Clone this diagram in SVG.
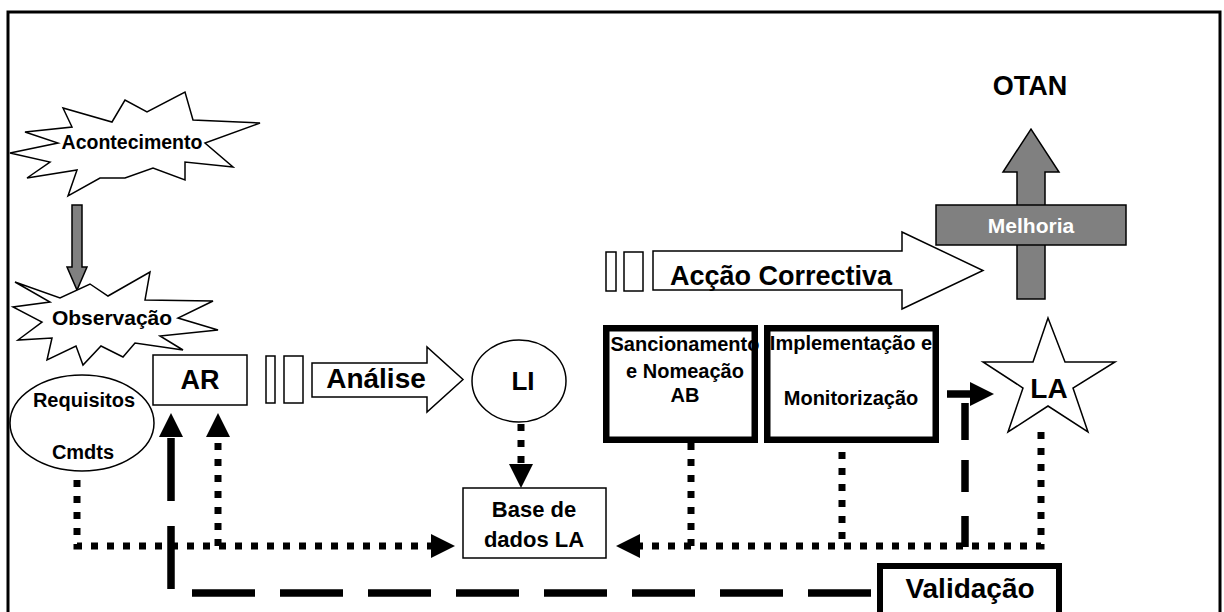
<svg xmlns="http://www.w3.org/2000/svg" width="1224" height="612" viewBox="0 0 1224 612">
<defs>
<style>
text{font-family:"Liberation Sans",Arial,sans-serif;font-weight:bold;fill:#000;text-anchor:middle}
.thin{fill:#fff;stroke:#000;stroke-width:1.5}
.thick{fill:#fff;stroke:#000;stroke-width:6.5}
.gray{fill:#808080;stroke:#000;stroke-width:1.5}
.dot{fill:none;stroke:#000;stroke-width:7;stroke-dasharray:7 9}
.dash{fill:none;stroke:#000;stroke-width:7.5}
</style>
<marker id="ah" markerUnits="userSpaceOnUse" markerWidth="26" markerHeight="24" refX="0" refY="12" orient="auto" viewBox="0 0 26 24">
<path d="M0,0 L24,12 L0,24 z" fill="#000"/>
</marker>
</defs>
<rect x="0" y="0" width="1224" height="612" fill="#fff"/>
<rect x="8" y="12" width="1212" height="700" fill="none" stroke="#000" stroke-width="3"/>

<g id="connectors">
<path class="dot" d="M77,480 V546 H431" marker-end="url(#ah)"/>
<path class="dot" d="M218,546 V437" marker-end="url(#ah)"/>
<path class="dot" d="M521,424 V464" marker-end="url(#ah)"/>
<path class="dot" d="M1041,432 V546 H640" marker-end="url(#ah)"/>
<path class="dot" d="M691,443 V546"/>
<path class="dot" d="M842,452 V546"/>
<path class="dash" d="M871,593 H171 V437" stroke-dasharray="63 25" marker-end="url(#ah)"/>
<path class="dash" d="M965,547 V516 M965,492 V460 M965,440 V403"/>
<path class="dash" d="M947,394 H970" marker-end="url(#ah)"/>
<path class="gray" d="M72,205 H82 V267 H87 L77,290 L67,267 H72 Z"/>
</g>

<g id="acontecimento">
<polygon class="thin" points="10,153 58,143 25,132 72,127 63,108 112,122 125,100 147,112 185,92 193,120 260,123 205,143 233,167 185,162 185,180 153,168 125,178 100,178 68,196 77,170 27,178 50,162"/>
<text x="132" y="149" font-size="19.5">Acontecimento</text>
</g>

<g id="observacao">
<polygon class="thin" points="15,282 60,298 90,284 108,296 150,272 145,300 213,301 178,318 218,330 160,336 183,350 135,343 123,357 101,346 83,365 76,346 47,360 52,338 18,340 42,322 13,307 50,302"/>
<text x="112" y="325" font-size="21">Observação</text>
</g>

<g id="requisitos">
<ellipse class="thin" cx="82" cy="423" rx="72" ry="48"/>
<text x="84" y="407" font-size="20">Requisitos</text>
<text x="83" y="459" font-size="20">Cmdts</text>
</g>

<g id="ar">
<rect class="thin" x="153" y="355" width="94" height="50"/>
<text x="200" y="389" font-size="27">AR</text>
</g>

<g id="analise">
<rect class="thin" x="266" y="356" width="9" height="47"/>
<rect class="thin" x="284" y="356" width="19" height="47"/>
<polygon class="thin" points="312,363 427,363 427,347 463,379.5 427,412 427,397 312,397"/>
<text x="376" y="388" font-size="28">Análise</text>
</g>

<g id="li">
<ellipse class="thin" cx="519" cy="381" rx="47" ry="41"/>
<text x="523" y="390" font-size="26">LI</text>
</g>

<g id="base">
<rect class="thin" x="463" y="488" width="143" height="70"/>
<text x="534" y="517" font-size="22">Base de</text>
<text x="534" y="547" font-size="22">dados LA</text>
</g>

<g id="accao">
<rect class="thin" x="606" y="252" width="10" height="39"/>
<rect class="thin" x="624" y="252" width="19" height="39"/>
<polygon class="thin" points="653,251 902,251 902,232 983,270.5 902,309 902,290 653,290"/>
<text x="670" y="285" font-size="27" style="text-anchor:start">Acção Correctiva</text>
</g>

<g id="sancionamento">
<text x="685" y="351" font-size="20">Sancionamento</text>
<text x="685" y="378" font-size="20">e Nomeação</text>
<text x="685" y="402" font-size="20">AB</text>
<rect x="606.25" y="328.25" width="148.5" height="111.5" fill="none" stroke="#000" stroke-width="6.5"/>
</g>

<g id="implementacao">
<text x="851" y="350" font-size="20">Implementação e</text>
<text x="851" y="405" font-size="20">Monitorização</text>
<rect x="767.25" y="328.25" width="168.5" height="111.5" fill="none" stroke="#000" stroke-width="6.5"/>
</g>

<g id="otan">
<text x="1030" y="95" font-size="27">OTAN</text>
</g>

<g id="melhoria">
<polygon class="gray" points="1017,299 1017,172 1003,172 1031,129 1059,172 1045,172 1045,299"/>
<rect class="gray" x="936" y="205" width="190" height="40"/>
<text x="1031" y="233" font-size="21" style="fill:#fff">Melhoria</text>
</g>

<g id="la">
<polygon class="thin" points="1048,318 1065,362 1115,362 1073,388 1088,432 1048,406 1008,432 1023,388 983,362 1033,362"/>
<text x="1049" y="398" font-size="28">LA</text>
</g>

<g id="validacao">
<rect x="880" y="566" width="179" height="80" fill="#fff" stroke="#000" stroke-width="6"/>
<text x="970" y="598" font-size="28">Validação</text>
</g>
</svg>
